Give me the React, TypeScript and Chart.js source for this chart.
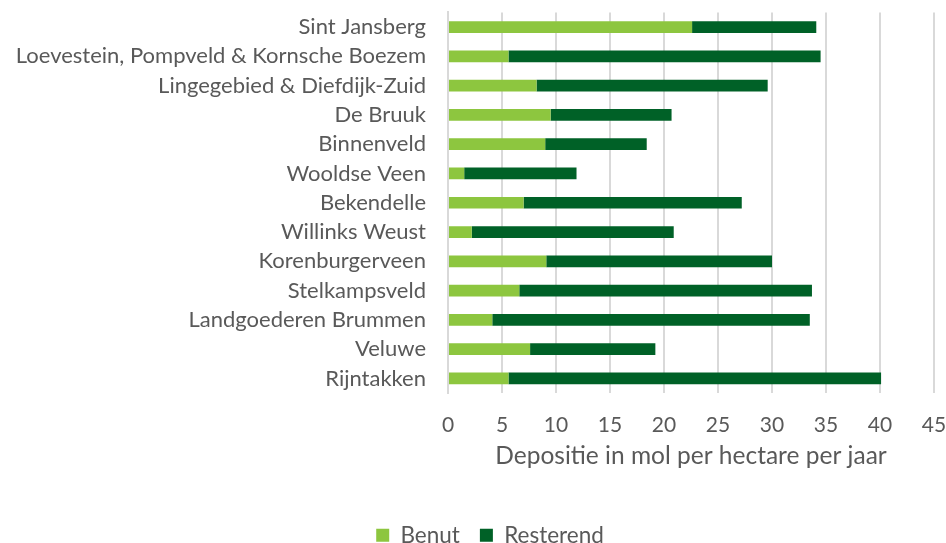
import React, { useEffect, useRef } from "react";
import { Chart, registerables } from "chart.js";

Chart.register(...registerables);

const categories = [
  "Sint Jansberg",
  "Loevestein, Pompveld & Kornsche Boezem",
  "Lingegebied & Diefdijk-Zuid",
  "De Bruuk",
  "Binnenveld",
  "Wooldse Veen",
  "Bekendelle",
  "Willinks Weust",
  "Korenburgerveen",
  "Stelkampsveld",
  "Landgoederen Brummen",
  "Veluwe",
  "Rijntakken",
];

const benut = [22.6, 5.6, 8.2, 9.5, 9.0, 1.5, 7.0, 2.2, 9.1, 6.6, 4.1, 7.6, 5.6];
const resterend = [11.5, 28.9, 21.4, 11.2, 9.4, 10.4, 20.2, 18.7, 20.9, 27.1, 29.4, 11.6, 34.5];

const xTickMin = 0;
const xTickMax = 45;
const xTickStep = 5;
const xTitle = "Depositie in mol per hectare per jaar";

const FONT = "Lato, 'Open Sans', sans-serif";
const TEXT = "#595959";

const legendShift = {
  id: "legendShift",
  afterLayout(chart: any) {
    const lg = chart.legend;
    if (lg) {
      lg.left += 34;
      lg.top += 13.5;
      lg.bottom += 13.5;
    }
  },
};

export default function App() {
  const ref = useRef<HTMLCanvasElement | null>(null);

  useEffect(() => {
    if (!ref.current) return;
    const chart = new Chart(ref.current, {
      type: "bar",
      data: {
        labels: categories,
        datasets: [
          {
            label: "Benut",
            data: benut,
            backgroundColor: "#8DC63F",
            barPercentage: 0.4,
            categoryPercentage: 1,
          },
          {
            label: "Resterend",
            data: resterend,
            backgroundColor: "#006127",
            barPercentage: 0.4,
            categoryPercentage: 1,
          },
        ],
      },
      plugins: [legendShift],
      options: {
        indexAxis: "y",
        animation: false,
        responsive: true,
        maintainAspectRatio: false,
        layout: { padding: { left: 0, right: 0, top: 12.4, bottom: 0 } },
        plugins: {
          legend: {
            position: "bottom",
            labels: {
              boxWidth: 13,
              boxHeight: 13,
              padding: 20,
              color: TEXT,
              font: { family: FONT, size: 22.5 },
            },
          },
          tooltip: { enabled: false },
        },
        scales: {
          x: {
            stacked: true,
            min: xTickMin,
            max: xTickMax,
            afterFit: (axis: any) => {
              axis.height = 97.4;
              axis.paddingLeft = 0;
              axis.paddingRight = 12;
            },
            ticks: {
              stepSize: xTickStep,
              color: TEXT,
              font: { family: FONT, size: 21 },
              padding: 20,
            },
            grid: { color: "#D9D9D9", lineWidth: 2, drawTicks: false },
            border: { display: false },
            title: {
              display: true,
              text: xTitle,
              color: TEXT,
              font: { family: FONT, size: 24.5 },
              padding: { top: 10, bottom: 20 },
            },
          },
          y: {
            stacked: true,
            afterFit: (axis: any) => {
              axis.width = 448;
              axis.paddingTop = 0;
              axis.paddingBottom = 0;
            },
            ticks: {
              color: TEXT,
              font: { family: FONT, size: 22 },
              padding: 22,
              autoSkip: false,
            },
            grid: { display: false, drawTicks: false },
            border: { display: true, color: "#D9D9D9", width: 2 },
          },
        },
      },
    });
    return () => chart.destroy();
  }, []);

  return (
    <div style={{ position: "absolute", left: 0, top: 0, width: 946, height: 543, background: "#fff" }}>
      <canvas ref={ref} />
    </div>
  );
}
